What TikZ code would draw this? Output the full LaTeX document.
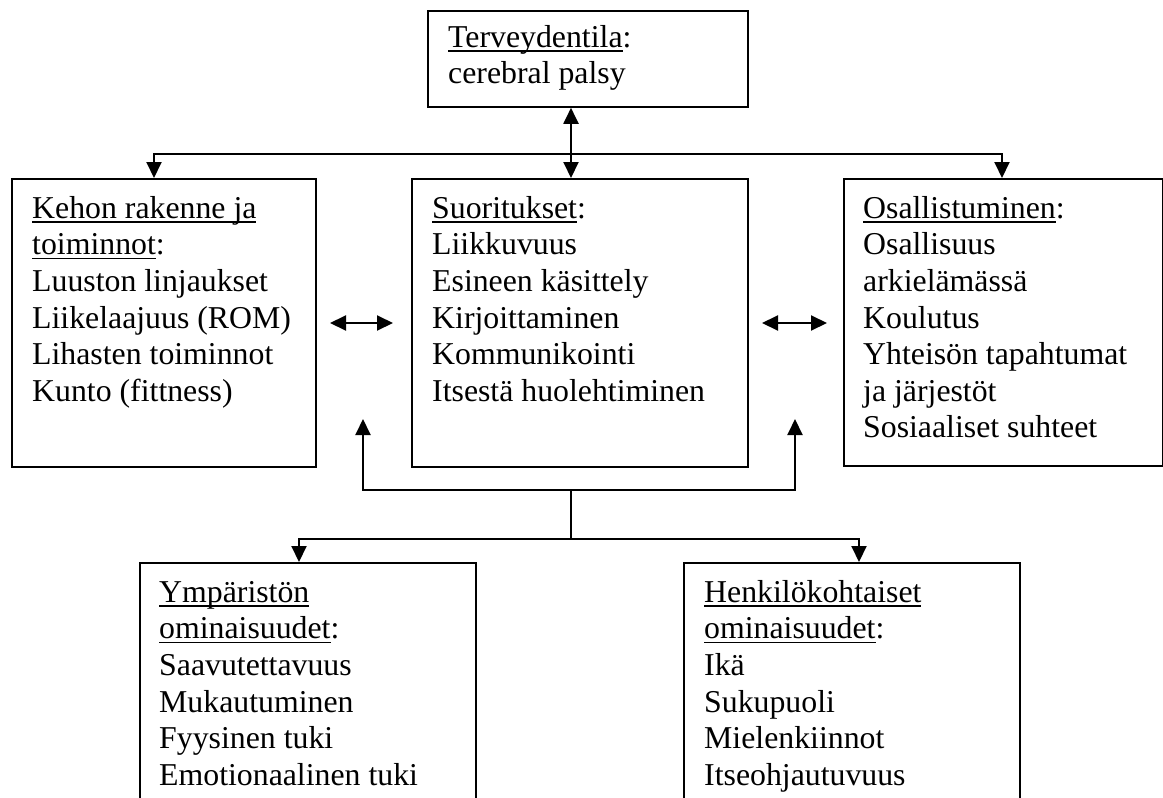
\documentclass[tikz,border=0pt]{standalone}
\usepackage{fontspec}
\setmainfont{Liberation Serif}
\usetikzlibrary{arrows.meta}
\newcommand\undl[1]{\setbox0\hbox{#1}\rlap{\rule[-4.5pt]{\wd0}{1.8pt}}\box0}
\newcommand\fl{\rule{0pt}{25pt}}
\tikzset{
  box/.style={draw, line width=1.8pt, inner sep=0pt, anchor=north west},
  txt/.style={anchor=north west, inner sep=0pt, align=left, font=\fontsize{31.8}{36.6}\selectfont},
  conn/.style={line width=2pt, {Triangle[length=16pt,width=15pt]}-{Triangle[length=16pt,width=15pt]}}
}
\begin{document}
\begin{tikzpicture}[x=1pt,y=-1pt]
\clip (0,0) rectangle (1163,798);
\fill[white] (0,0) rectangle (1163,798);
% boxes
\node[box, minimum width=320pt, minimum height=96pt] (top) at (427,10) {};
\node[box, minimum width=304pt, minimum height=288pt] (left) at (11,178) {};
\node[box, minimum width=336pt, minimum height=288pt] (mid) at (411,178) {};
\node[box, minimum width=319pt, minimum height=287pt] (right) at (843,178) {};
\node[box, minimum width=336pt, minimum height=280pt] (env) at (139,562) {};
\node[box, minimum width=336pt, minimum height=280pt] (pers) at (683,562) {};
% texts
\node[txt] (ttop) at (448,22) {\fl\undl{Terveydentila}:\\cerebral palsy};
\node[txt] (tleft) at (32,193) {\fl\undl{Kehon rakenne ja}\\\undl{toiminnot}:\\Luuston linjaukset\\Liikelaajuus (ROM)\\Lihasten toiminnot\\Kunto (fittness)};
\node[txt] (tmid) at (432,193) {\fl\undl{Suoritukset}:\\Liikkuvuus\\Esineen käsittely\\Kirjoittaminen\\Kommunikointi\\Itsestä huolehtiminen};
\node[txt] (tright) at (863,193) {\fl\undl{Osallistuminen}:\\Osallisuus\\arkielämässä\\Koulutus\\Yhteisön tapahtumat\\ja järjestöt\\Sosiaaliset suhteet};
\node[txt] (tenv) at (159,577) {\fl\undl{Ympäristön}\\\undl{ominaisuudet}:\\Saavutettavuus\\Mukautuminen\\Fyysinen tuki\\Emotionaalinen tuki};
\node[txt] (tpers) at (704,577) {\fl\undl{Henkilökohtaiset}\\\undl{ominaisuudet}:\\Ikä\\Sukupuoli\\Mielenkiinnot\\Itseohjautuvuus};
% coordinates
\coordinate (vc) at (571,154);
\coordinate (hL) at (154,154);
\coordinate (hR) at (1002,154);
\coordinate (aL1) at (330,323);
\coordinate (aL2) at (393,323);
\coordinate (aR1) at (762,323);
\coordinate (aR2) at (827,323);
\coordinate (uL) at (363,490);
\coordinate (uR) at (795,490);
\coordinate (tL) at (363,419);
\coordinate (tR) at (795,419);
\coordinate (j) at (571,490);
\coordinate (dL) at (299,539);
\coordinate (dR) at (859,539);
% connectors
\draw[conn] (top.south -| vc) -- (mid.north -| vc);
\draw[conn] (left.north -| hL) -- (hL) -- (hR) -- (right.north -| hR);
\draw[conn] (aL1) -- (aL2);
\draw[conn] (aR1) -- (aR2);
\draw[conn] (tL) -- (uL) -- (uR) -- (tR);
\draw[line width=2pt] (j) -- (j |- dL);
\draw[conn] (env.north -| dL) -- (dL) -- (dR) -- (pers.north -| dR);
\end{tikzpicture}
\end{document}
